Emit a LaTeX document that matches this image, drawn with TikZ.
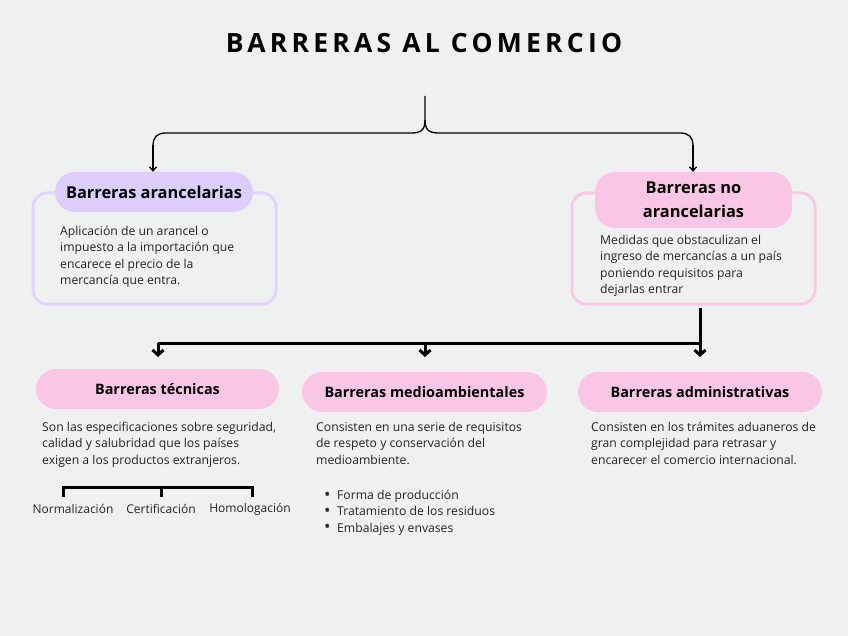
\documentclass[tikz,border=0pt]{standalone}
\usepackage{fontspec}
\setmainfont{Open Sans}
\usetikzlibrary{arrows.meta}
\definecolor{bg}{RGB}{239,241,240}
\definecolor{lav}{RGB}{221,205,251}
\definecolor{lavline}{RGB}{226,212,250}
\definecolor{pinkfill}{RGB}{250,198,229}
\definecolor{pinkline}{RGB}{250,200,230}
\definecolor{txt}{RGB}{35,35,35}
\newcommand{\bul}{\makebox[13pt][l]{\raisebox{-0.5pt}{\fontsize{17}{16.5}\selectfont •}}}
\begin{document}
\begin{tikzpicture}[x=1pt,y=-1pt,
  pill/.style={fill=#1, rounded corners=20pt, inner sep=0pt, text=black,
    font=\fontsize{16.4}{24}\selectfont\bfseries, align=center},
  pilltwo/.style={fill=#1, rounded corners=20pt, inner sep=0pt, text=black,
    font=\fontsize{14.4}{20}\selectfont\bfseries, align=center},
  frame/.style={draw=#1, line width=3pt, rounded corners=14pt, inner sep=0pt},
  body/.style={anchor=north west, inner sep=0pt, align=left, text=txt,
    font=\fontsize{12.2}{16.4}\selectfont},
  small/.style={inner sep=0pt, text=txt, font=\fontsize{12}{16.5}\selectfont},
  thinarrow/.style={line width=1.3pt, -{Straight Barb[length=4pt,width=7pt]}},
  thickarrow/.style={line width=3pt, -{Straight Barb[length=5pt,width=11pt]}}
]
\fill[bg] (0,0) rectangle (848,636);
\useasboundingbox (0,0) rectangle (848,636);

% title
\node[inner sep=0pt, font=\fontsize{26.5}{30}\selectfont\bfseries\addfontfeature{LetterSpace=16}] (title) at (424,43) {BARRERAS AL COMERCIO};

% top boxes
\node[frame=lavline, minimum width=243pt, minimum height=111pt] (f1) at (154.5,248.5) {};
\node[pill=lav, minimum width=198pt, minimum height=40pt] (h1) at (154,192) {Barreras arancelarias};
\node[body] (t1) at (60,226) {Aplicación de un arancel o\\impuesto a la importación que\\encarece el precio de la\\mercancía que entra.};

\node[frame=pinkline, minimum width=243pt, minimum height=111pt] (f2) at (693.5,248.5) {};
\node[pill=pinkfill, minimum width=197pt, minimum height=56pt] (h2) at (693.5,200) {Barreras no\\arancelarias};
\node[body] (t2) at (600,235) {Medidas que obstaculizan el\\ingreso de mercancías a un país\\poniendo requisitos para\\dejarlas entrar};

% brace
\coordinate (btop) at (425,96);
\draw[line width=1.3pt] (btop) -- (425,120) .. controls (425,130) and (421,133) .. (411,133) -- (166,133) .. controls (157,133) and (153,137) .. (153,146);
\draw[line width=1.3pt] (425,120) .. controls (425,130) and (429,133) .. (439,133) -- (680,133) .. controls (689,133) and (693,137) .. (693,146);
\draw[thinarrow] (153,145) -- (h1.north -| 153,0);
\draw[thinarrow] (693,145) -- (h2.north -| 693,0);

% second row
\node[pilltwo=pinkfill, minimum width=243pt, minimum height=40pt] (h3) at (157.5,389) {Barreras técnicas};
\node[pilltwo=pinkfill, minimum width=245pt, minimum height=40pt] (h4) at (424.5,392) {Barreras medioambientales};
\node[pilltwo=pinkfill, minimum width=244pt, minimum height=40pt] (h5) at (700,392) {Barreras administrativas};

% connectors to second row
\coordinate (c0) at (700,308);
\coordinate (cl) at (158,343);
\draw[line width=3pt] (cl) -- (700,343);
\draw[thickarrow] (c0) -- (700,357);
\draw[thickarrow] (cl) -- (158,357);
\draw[thickarrow] (425,343) -- (425,357);

% texts
\node[body] (t3) at (42,422) {Son las especificaciones sobre seguridad,\\calidad y salubridad que los países\\exigen a los productos extranjeros.};
\node[body] (t4) at (316,422) {Consisten en una serie de requisitos\\de respeto y conservación del\\medioambiente.};
\node[body] (t5) at (591,422) {Consisten en los trámites aduaneros de\\gran complejidad para retrasar y\\encarecer el comercio internacional.};

% bullets
\node[body] (t6) at (324,490) {\bul Forma de producción\\\bul Tratamiento de los residuos\\\bul Embalajes y envases};

% bracket for technical
\draw[line width=3pt] (63,497) -- (63,487) -- (252,487) -- (252,497);
\draw[line width=3pt] (161,487) -- (161,497);
\node[small] (n1) at (73,509) {Normalización};
\node[small] (n2) at (161,509) {Certificación};
\node[small] (n3) at (250,509) {Homologación};
\end{tikzpicture}
\end{document}
